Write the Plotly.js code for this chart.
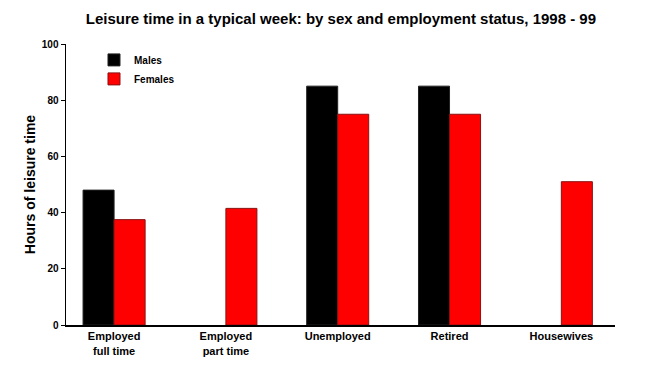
<!DOCTYPE html>
<html>
<head>
<meta charset="utf-8">
<script src="https://cdn.plot.ly/plotly-3.0.1.min.js"></script>
<style>html,body{margin:0;padding:0;background:#fff;}#chart{width:662px;height:365px;}</style>
</head>
<body>
<div id="chart"></div>
<script>
const categories = ["Employed<br>full time", "Employed<br>part time", "Unemployed", "Retired", "Housewives"];
const males = [48, null, 85, 85, null];
const females = [37.5, 41.5, 75, 75, 51];
const yTicks = [0, 20, 40, 60, 80, 100];

const F = "Liberation Sans, Arial, sans-serif";
const data = [
  {type: "bar", name: "<b>Males</b>", x: categories, y: males,
   marker: {color: "#000000", line: {color: "#222", width: 1}}},
  {type: "bar", name: "<b>Females</b>", x: categories, y: females,
   marker: {color: "#ff0000", line: {color: "#8a1010", width: 1}}}
];
const layout = {
  width: 662, height: 365,
  margin: {l: 66, r: 47, t: 44, b: 40},
  paper_bgcolor: "#fff", plot_bgcolor: "#fff",
  font: {family: F, color: "#000"},
  title: {text: "<b>Leisure time in a typical week: by sex and employment status, 1998 - 99</b>",
          font: {size: 15, family: F}, x: 0.515, xanchor: "center", y: 0.95, yanchor: "middle"},
  barmode: "group", bargap: 0.445, bargroupgap: 0,
  showlegend: true,
  legend: {x: 0.051, y: 0.995, xanchor: "left", yanchor: "top", bgcolor: "rgba(0,0,0,0)",
           font: {size: 10, family: F}, tracegroupgap: 0, itemwidth: 30},
  xaxis: {type: "category", range: [-0.43, 4.48], showline: true, linecolor: "#000", linewidth: 2,
          ticks: "", showgrid: false, zeroline: false,
          tickfont: {size: 11, family: F}, tickprefix: "<b>", ticksuffix: "</b>"},
  yaxis: {range: [0, 100], tickvals: yTicks, ticktext: yTicks.map(v => "<b>" + v + "</b>"),
          showline: true, linecolor: "#000", linewidth: 1.5,
          ticks: "outside", ticklen: 4, tickcolor: "#000", showgrid: false, zeroline: false,
          tickfont: {size: 10, family: F},
          title: {text: "<b>Hours of leisure time</b>", font: {size: 14, family: F}, standoff: 3}}
};
Plotly.newPlot("chart", data, layout, {displayModeBar: false, staticPlot: true});
</script>
</body>
</html>
